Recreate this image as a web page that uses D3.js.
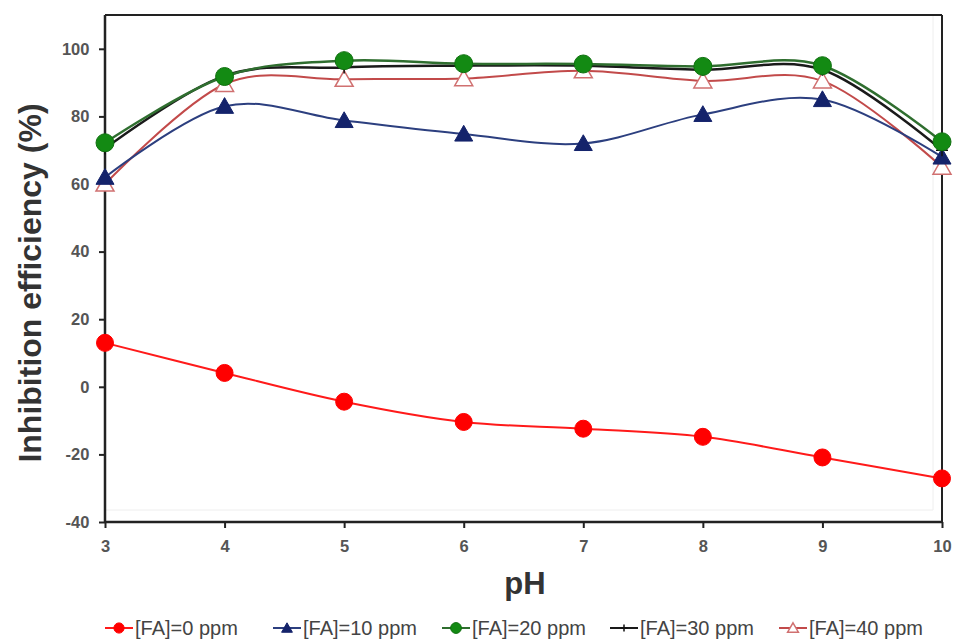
<!DOCTYPE html>
<html><head><meta charset="utf-8">
<script src="https://cdn.jsdelivr.net/npm/d3@7"></script>
<style>body{margin:0;background:#fff}svg{display:block}</style>
</head><body><svg id="c" width="954" height="639"></svg>
<script>
const pH = [3, 4, 5, 6, 7, 8, 9, 10];
const fa0  = [13, 4.1, -4.4, -10.4, -12.4, -14.8, -20.9, -27.1];
const fa10 = [62, 83, 78.8, 74.8, 72, 80.6, 85, 68];
const fa20 = [72.2, 91.8, 96.5, 95.6, 95.5, 94.8, 95, 72.5];
const fa30 = [70.5, 92, 94.5, 95, 95, 93.8, 93.8, 70];
const fa40 = [60, 89.5, 91, 91.2, 93.5, 90.5, 90.5, 65];
const seriesNames = ["[FA]=0 ppm", "[FA]=10 ppm", "[FA]=20 ppm", "[FA]=30 ppm", "[FA]=40 ppm"];
const yTicks = [-40, -20, 0, 20, 40, 60, 80, 100];
const xTicks = [3, 4, 5, 6, 7, 8, 9, 10];

const series = [
  {name: seriesNames[0], vals: fa0,  line: "#ff1a1a", lw: 2, marker: "circle", fill: "#ff0000", stroke: "#ff0000", r: 8.5},
  {name: seriesNames[1], vals: fa10, line: "#2c3f7f", lw: 2, marker: "triangle", fill: "#14236b", stroke: "#14236b", r: 9},
  {name: seriesNames[2], vals: fa20, line: "#2f6e2f", lw: 2.5, marker: "circle", fill: "#138a13", stroke: "#0f700f", r: 9},
  {name: seriesNames[3], vals: fa30, line: "#1a1a1a", lw: 2.5, marker: "plus", fill: "none", stroke: "#111", r: 6},
  {name: seriesNames[4], vals: fa40, line: "#c24a4a", lw: 2, marker: "otriangle", fill: "#fff", stroke: "#d07070", r: 9}
];

const svg = d3.select("#c");
const L = 105, R = 942, T = 15, B = 522;
const x = d3.scaleLinear().domain([3, 10]).range([L, R]);
const y = d3.scaleLinear().domain([-40, 110]).range([B, T]);

// faint inner plot-area lines
svg.append("line").attr("x1", L).attr("x2", 933).attr("y1", 510).attr("y2", 510).attr("stroke", "#eeeeee").attr("stroke-width", 1);
svg.append("line").attr("x1", 933).attr("x2", 933).attr("y1", T).attr("y2", 510).attr("stroke", "#eeeeee").attr("stroke-width", 1);

// frame
svg.append("line").attr("x1", L).attr("x2", R).attr("y1", T).attr("y2", T).attr("stroke", "#222").attr("stroke-width", 2);
svg.append("line").attr("x1", R).attr("x2", R).attr("y1", T).attr("y2", B).attr("stroke", "#222").attr("stroke-width", 2);

const gx = svg.append("g").attr("transform", `translate(0,${B})`)
  .call(d3.axisBottom(x).tickValues(xTicks).tickSize(6).tickSizeOuter(0).tickFormat(d => String(d)));
const gy = svg.append("g").attr("transform", `translate(${L},0)`)
  .call(d3.axisLeft(y).tickValues(yTicks).tickSize(6).tickSizeOuter(0).tickFormat(d => String(d)));
[gx, gy].forEach(g => {
  g.select(".domain").attr("stroke", "#222").attr("stroke-width", 2.5);
  g.selectAll(".tick line").attr("stroke", "#222").attr("stroke-width", 2);
  g.selectAll(".tick text").attr("fill", "#555").attr("font-family", "Liberation Sans, Arial, sans-serif")
    .attr("font-size", 16.5).attr("font-weight", "bold");
});
gx.selectAll(".tick text").attr("dy", "1.25em");
gy.selectAll(".tick text").attr("dx", "-0.4em");
gy.select(".domain").attr("d", `M0,${T}V${B}`);
gx.select(".domain").attr("d", `M${L},0H${R}`);

// titles
svg.append("text").attr("x", 525).attr("y", 594).attr("text-anchor", "middle")
  .attr("font-family", "Liberation Sans, Arial, sans-serif").attr("font-weight", "bold").attr("font-size", 31).attr("fill", "#333").text("pH");
svg.append("text").attr("transform", "translate(41,283) rotate(-90)").attr("text-anchor", "middle")
  .attr("font-family", "Liberation Sans, Arial, sans-serif").attr("font-weight", "bold").attr("font-size", 32).attr("fill", "#333").text("Inhibition efficiency (%)");

const lineGen = d3.line().x(d => x(d[0])).y(d => y(d[1])).curve(d3.curveCardinal.tension(0));

function drawMarker(g, s, cx, cy, scale) {
  const r = s.r * scale;
  if (s.marker === "circle") {
    g.append("circle").attr("cx", cx).attr("cy", cy).attr("r", r).attr("fill", s.fill).attr("stroke", s.stroke).attr("stroke-width", 1);
  } else if (s.marker === "triangle" || s.marker === "otriangle") {
    const h = r * 1.75, w = r * 1.0;
    g.append("path").attr("d", `M${cx},${cy - h * 0.55}L${cx + w},${cy + h * 0.45}L${cx - w},${cy + h * 0.45}Z`)
      .attr("fill", s.fill).attr("stroke", s.stroke).attr("stroke-width", s.marker === "otriangle" ? 1.5 : 1);
  } else if (s.marker === "plus") {
    g.append("path").attr("d", `M${cx - r},${cy}H${cx + r}M${cx},${cy - r}V${cy + r}`)
      .attr("stroke", s.stroke).attr("stroke-width", 1.5).attr("fill", "none");
  }
}

const order = [4, 1, 3, 2, 0];
order.forEach(i => {
  const s = series[i];
  const pts = pH.map((p, k) => [p, s.vals[k]]);
  svg.append("path").datum(pts).attr("d", lineGen).attr("fill", "none").attr("stroke", s.line).attr("stroke-width", s.lw);
});
order.forEach(i => {
  const s = series[i];
  const g = svg.append("g");
  pH.forEach((p, k) => drawMarker(g, s, x(p), y(s.vals[k]), 1));
});

// legend
const legX = [105, 273, 442, 610, 779];
const lg = svg.append("g").attr("transform", "translate(0,628)");
series.forEach((s, i) => {
  const g = lg.append("g").attr("transform", `translate(${legX[i]},0)`);
  g.append("line").attr("x1", 0).attr("x2", 28).attr("y1", 0).attr("y2", 0).attr("stroke", s.line).attr("stroke-width", 2);
  drawMarker(g, s, 14, 0, 0.6);
  g.append("text").attr("x", 30).attr("y", 7).attr("font-family", "Liberation Sans Narrow, Arial Narrow, Liberation Sans, sans-serif")
    .attr("font-size", 20).attr("fill", "#444").text(s.name);
});
</script></body></html>
